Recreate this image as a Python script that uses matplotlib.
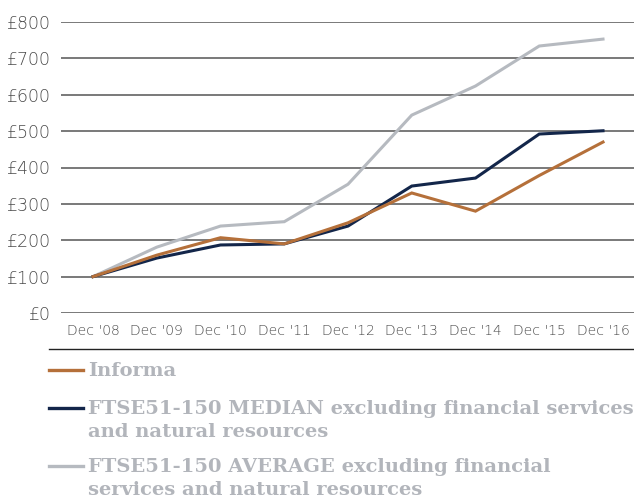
import numpy as np
import matplotlib
matplotlib.use('Agg')
import matplotlib.pyplot as plt
from matplotlib.lines import Line2D

# data
years = ["Dec '08", "Dec '09", "Dec '10", "Dec '11", "Dec '12",
         "Dec '13", "Dec '14", "Dec '15", "Dec '16"]
informa = [100, 159, 207, 190, 248, 330, 280, 378, 470]
median = [100, 151, 187, 190, 239, 349, 371, 492, 501]
average = [100, 181, 239, 251, 354, 544, 624, 734, 753]
yticks = [0, 100, 200, 300, 400, 500, 600, 700, 800]

c_informa = '#b5703a'
c_median = '#13264a'
c_average = '#b6bac0'
c_text = '#b2b5bb'

plt.rcParams['font.family'] = ['DejaVu Sans']

fig = plt.figure(figsize=(6.34, 5.04), dpi=100)
ax = fig.add_axes([61/634, 191/504, 573/634, 291/504])

x = np.arange(len(years))
ax.plot(x, average, color=c_average, lw=2.2, solid_joinstyle='miter')
ax.plot(x, median, color=c_median, lw=2.2, solid_joinstyle='miter')
ax.plot(x, informa, color=c_informa, lw=2.2, solid_joinstyle='miter')

ax.set_xlim(-0.502, 8.486)
ax.set_ylim(0, 800)
ax.set_yticks(yticks)
ax.set_yticklabels(['£%d' % v for v in yticks], fontsize=12.5,
                   fontweight='light', color='#4a4a4a')
ax.set_xticks(x)
ax.set_xticklabels(years, fontsize=10, fontweight='light', color='#4a4a4a')
ax.tick_params(length=0)
ax.tick_params(axis='y', pad=7)
ax.tick_params(axis='x', pad=8)
for s in ax.spines.values():
    s.set_visible(False)
ax.yaxis.grid(True, color='#555555', lw=1.1, zorder=0)
ax.set_axisbelow(True)

# legend block below chart
def fy(py):
    return 1 - py / 504.

def fx(px):
    return px / 634.

fig.add_artist(Line2D([fx(49), 1], [fy(349), fy(349)], color='#222222', lw=1))

entries = [
    (c_informa, 370, [("Informa", None)]),
    (c_median, 408, [("FTSE51-150 MEDIAN", " excluding financial services"),
                     ("and natural resources", None)]),
    (c_average, 466, [("FTSE51-150 AVERAGE", " excluding financial"),
                      ("services and natural resources", None)]),
]
serif = ['DejaVu Serif']
for col, py, lines in entries:
    fig.add_artist(Line2D([fx(49), fx(83)], [fy(py), fy(py)], color=col, lw=2.4))
    for i, (bold, rest) in enumerate(lines):
        ty = py + 1 + i * 23
        t = fig.text(fx(88), fy(ty), bold, fontsize=14, fontweight='bold',
                     family=serif, color=c_text, va='center')
        if rest is not None:
            ax.annotate(rest, xy=(1, 0), xycoords=t, va='bottom', ha='left',
                        fontsize=14, fontweight='bold', family=serif,
                        color=c_text, annotation_clip=False)

fig.savefig('out.png', dpi=100)
